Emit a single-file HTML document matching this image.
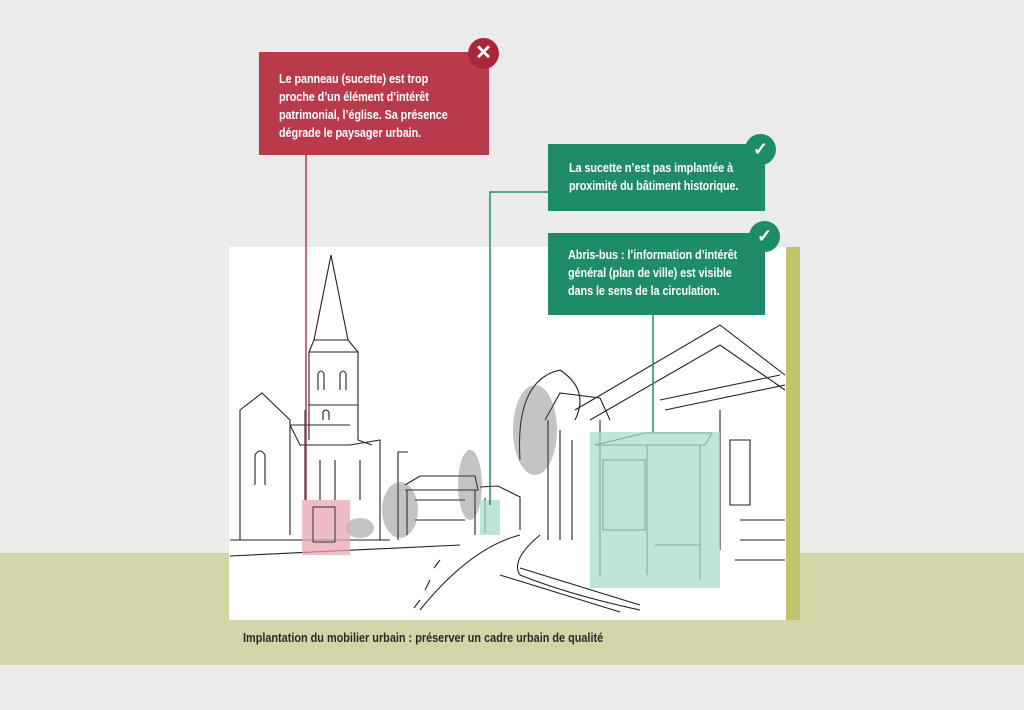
<!DOCTYPE html>
<html><head><meta charset="utf-8"><style>
body{margin:0;width:1024px;height:710px;background:#ebebeb;position:relative;overflow:hidden;font-family:"Liberation Sans",sans-serif}
div{position:absolute;box-sizing:border-box}
.t{color:#fff;font-weight:bold;font-size:12.5px;line-height:18px;letter-spacing:-0.1px}
.t span,.cap span{display:inline-block;transform:scaleX(0.87);transform-origin:0 0;white-space:nowrap}
.c{border-radius:50%;color:#fff;text-align:center;font-weight:bold}
</style></head><body>
<div style="left:0;top:553px;width:1024px;height:112px;background:#d4d5a7"></div>
<div style="left:229px;top:247px;width:557px;height:373px;background:#fff"></div>
<div style="left:786px;top:247px;width:14px;height:373px;background:#c0c46e"></div>
<svg style="position:absolute;left:0;top:0" width="1024" height="710">
<g fill="none" stroke="#222" stroke-width="1.1">
<path d="M240 410 L262 393 L290 420 L290 535 M240 410 L240 540 M290 425 L350 425 M290 425 L300 445 L350 445 M305 410 L305 500"/>
<path d="M331 255 L314 340 L348 340 Z M314 340 L309 352 L309 440 M348 340 L358 352 L358 440 M309 352 L358 352 M309 405 L358 405"/>
<path d="M318 390 v-16 q3-6 6 0 v16 M340 390 v-16 q3-6 6 0 v16 M323 420 v-8 q3-4 6 0v8"/>
<path d="M350 445 L380 440 L380 540 M358 440 L372 445 M255 485 v-30 q5-8 10 0 v30 M320 500 v-40 M335 500 v-40 M360 500 v-40"/>
<path d="M230 540 L390 540 M230 556 L460 545"/>
<path d="M398 540 v-88 h10"/>
<path d="M405 485 L420 476 L475 476 L478 490 L405 490 M407 490 v45 M475 490 v45 M415 500 h50 M415 520 h50"/>
<path d="M480 487 L498 486 L520 497 L520 530 M485 498 v35"/>
<path d="M520 535 Q470 548 420 610 M540 535 Q510 560 520 575 Q570 595 640 610 M430 580 l-5 10 M440 560 l-6 8 M420 600 l-6 8"/>
<path d="M520 460 Q515 380 560 370 Q590 390 575 420"/>
<path d="M545 420 L560 393 L600 398 L610 420 M548 420 v120 M560 430 v110 M572 440 v100"/>
<path d="M575 410 L720 325 L785 375 M590 420 L720 345 L785 390 M600 420 v115"/>
<path d="M660 400 L780 375 M665 410 L785 385 M720 410 v140 M730 440 h20 v65 h-20z"/>
<path d="M740 520 h45 M740 540 h45 M735 560 h50"/>
<path d="M595 445 L645 433 L712 433 L705 445 Z M600 455 v120 M647 445 v130 M700 445 v135 M655 545 h45 M603 460 h42 v70 h-42z"/>
<path d="M500 575 L620 612 M520 568 L640 605"/>
</g>
<g fill="#555" opacity="0.35">
<ellipse cx="400" cy="510" rx="18" ry="28"/><ellipse cx="470" cy="485" rx="12" ry="35"/><ellipse cx="535" cy="430" rx="22" ry="45"/><ellipse cx="360" cy="528" rx="14" ry="10"/>
</g>
<rect x="302" y="500" width="48" height="55" fill="#e8a6b2" opacity="0.75"/>
<rect x="480" y="500" width="20" height="35" fill="#a8dcc8" opacity="0.75"/>
<rect x="590" y="432" width="130" height="156" fill="#a8dcc8" opacity="0.75"/>
<rect x="313" y="507" width="22" height="35" fill="none" stroke="#333"/>
<path d="M306 155 V500" stroke="#b83a4b" stroke-width="1.5"/>
<path d="M548 192 H490 V505" stroke="#1e8c69" stroke-width="1.5" fill="none"/>
<path d="M653 315 V432" stroke="#1e8c69" stroke-width="1.5"/>
</svg>
<div style="left:259px;top:52px;width:230px;height:103px;background:#b83a4b;padding:18px 0 0 20px" class="t"><span>Le panneau (sucette) est trop<br>proche d’un élément d’intérêt<br>patrimonial, l’église. Sa présence<br>dégrade le paysager urbain.</span></div>
<div class="c" style="left:468px;top:38px;width:31px;height:31px;background:#a8283a;font-size:20px;line-height:31px">✕</div>
<div style="left:548px;top:144px;width:217px;height:67px;background:#1e8c69;padding:15px 0 0 21px" class="t"><span>La sucette n’est pas implantée à<br>proximité du bâtiment historique.</span></div>
<div class="c" style="left:745px;top:134px;width:31px;height:31px;background:#1e8c69;font-size:18px;line-height:31px">✓</div>
<div style="left:548px;top:233px;width:217px;height:82px;background:#1e8c69;padding:13px 0 0 20px" class="t"><span>Abris-bus : l’information d’intérêt<br>général (plan de ville) est visible<br>dans le sens de la circulation.</span></div>
<div class="c" style="left:749px;top:221px;width:31px;height:31px;background:#1e8c69;font-size:18px;line-height:31px">✓</div>
<div class="cap" style="left:243px;top:631px;font-size:12.5px;font-weight:bold;color:#2a2a2a"><span>Implantation du mobilier urbain : préserver un cadre urbain de qualité</span></div>
</body></html>
